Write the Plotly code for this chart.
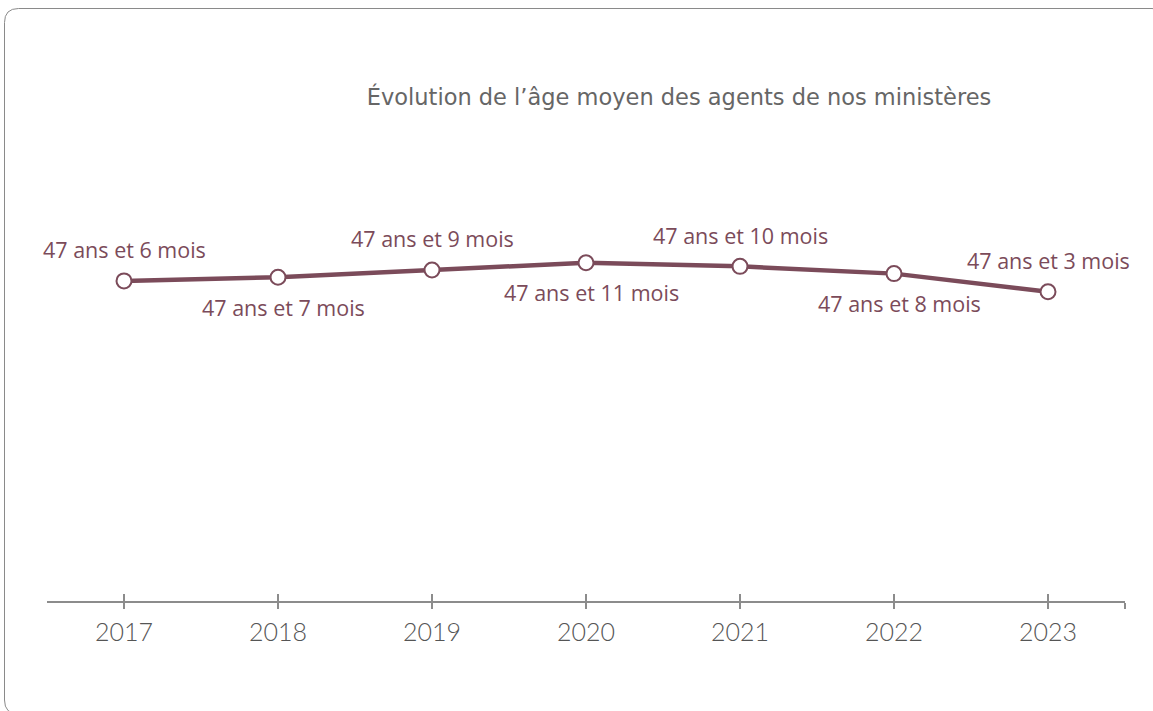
import plotly.graph_objects as go

# ---- data ----
annees = [2017, 2018, 2019, 2020, 2021, 2022, 2023]
ans = [47, 47, 47, 47, 47, 47, 47]
mois = [6, 7, 9, 11, 10, 8, 3]
tick_labels = ["2017", "2018", "2019", "2020", "2021", "2022", "2023"]
titre = "Évolution de l’âge moyen des agents de nos ministères"

age = [a + m / 12 for a, m in zip(ans, mois)]
etiquettes = [f"{a} ans et {m} mois" for a, m in zip(ans, mois)]

W, H = 1153, 711
ML = 47
MR = W - 1125
MB = H - 601
MT = 172
Y_RANGE = [40.15, 50.0]
X_RANGE = [2016.5, 2023.5]

LINE_COL = "#7b4b5a"
AXIS_COL = "#8c8c8c"
FONT = "Open Sans"

fig = go.Figure()
fig.add_trace(go.Scatter(
    x=annees, y=age, mode="lines+markers",
    line=dict(color=LINE_COL, width=4.5),
    marker=dict(size=15, color="white", line=dict(color=LINE_COL, width=2)),
    hoverinfo="skip", showlegend=False,
))
# invisible companion trace to carry the crossing tick axis
fig.add_trace(go.Scatter(
    x=annees, y=age, xaxis="x2", mode="markers",
    marker=dict(opacity=0), hoverinfo="skip", showlegend=False,
))

for i, (x, y, t) in enumerate(zip(annees, age, etiquettes)):
    up = (i % 2 == 0)
    fig.add_annotation(
        x=x, y=y, text=t, showarrow=False,
        yshift=31 if up else -30,
        xshift=0 if up else 5,
        font=dict(family=FONT, size=21.5, color=LINE_COL),
    )

# rounded frame (decoration) in paper coordinates
pw = W - ML - MR
ph = H - MT - MB
def px(xs):
    return (xs - ML) / pw
def py(ys):
    return (H - MB - ys) / ph
x0, y0, x1, y1, r = 4.5, 8.5, 1166, 714, 14
path = (
    f"M {px(x0 + r)},{py(y0)} L {px(x1 - r)},{py(y0)} "
    f"Q {px(x1)},{py(y0)} {px(x1)},{py(y0 + r)} "
    f"L {px(x1)},{py(y1 - r)} Q {px(x1)},{py(y1)} {px(x1 - r)},{py(y1)} "
    f"L {px(x0 + r)},{py(y1)} Q {px(x0)},{py(y1)} {px(x0)},{py(y1 - r)} "
    f"L {px(x0)},{py(y0 + r)} Q {px(x0)},{py(y0)} {px(x0 + r)},{py(y0)} Z"
)
fig.add_shape(type="path", path=path, xref="paper", yref="paper",
              line=dict(color="#8a8a8a", width=1), layer="below")

fig.update_layout(
    width=W, height=H,
    margin=dict(l=ML, r=MR, t=MT, b=MB),
    paper_bgcolor="white", plot_bgcolor="white",
    title=dict(text=titre, x=679 / W, xanchor="center",
               y=1 - 97 / H, yanchor="middle",
               font=dict(family="DejaVu Sans", size=22.5, color="#666666")),
    xaxis=dict(range=X_RANGE, tickvals=annees + [2023.5],
               ticktext=tick_labels + [""],
               showline=True, linecolor=AXIS_COL, linewidth=2,
               ticks="outside", ticklen=6, tickwidth=1.5, tickcolor=AXIS_COL,
               showgrid=False, zeroline=False,
               tickfont=dict(family="Lato", size=25, color="#555555", weight=300),
               ticklabelstandoff=2),
    xaxis2=dict(range=X_RANGE, overlaying="x", anchor="y", side="bottom",
                tickvals=annees + [2023.5], ticks="inside", ticklen=7,
                tickwidth=1.5, tickcolor=AXIS_COL, showticklabels=False,
                showgrid=False, zeroline=False, showline=False),
    yaxis=dict(range=Y_RANGE, visible=False, showgrid=False),
)

fig.write_html(
    "out.html",
    config={"displayModeBar": False},
    post_script="document.body.style.margin='0';document.body.style.overflow='hidden';",
)
